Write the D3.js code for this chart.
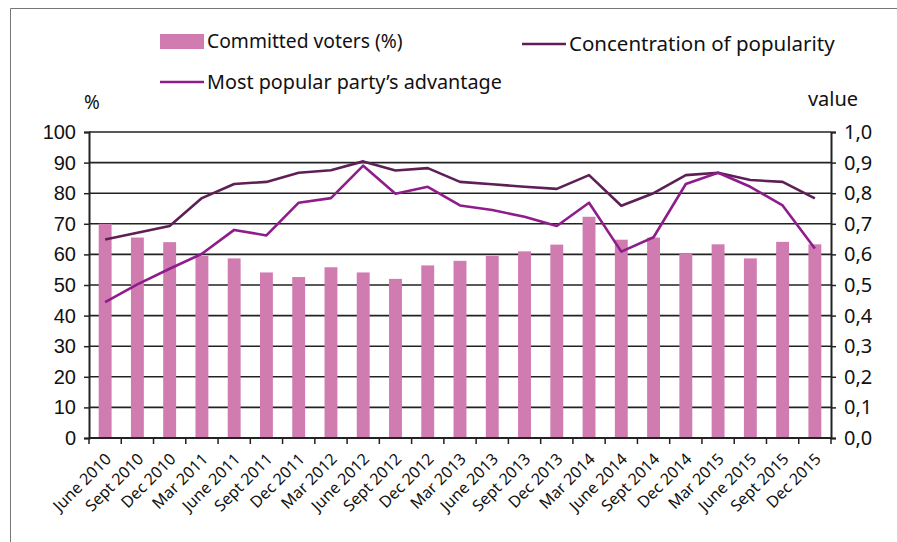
<!DOCTYPE html>
<html>
<head>
<meta charset="utf-8">
<script src="https://cdn.jsdelivr.net/npm/d3@7"></script>
<style>
  body { margin: 0; background: #fff; }
  svg { display: block; font-family: "Noto Sans", "Open Sans", sans-serif; }
</style>
</head>
<body>
<script>
// quarters on the x axis
var quarters = ["June 2010","Sept 2010","Dec 2010","Mar 2011","June 2011","Sept 2011","Dec 2011",
  "Mar 2012","June 2012","Sept 2012","Dec 2012","Mar 2013","June 2013","Sept 2013","Dec 2013",
  "Mar 2014","June 2014","Sept 2014","Dec 2014","Mar 2015","June 2015","Sept 2015","Dec 2015"];

// bars, left axis (%)
var committed = [70, 65.5, 64, 59.5, 58.7, 54.1, 52.6, 55.8, 54.1, 52.0, 56.4, 57.9, 59.5,
  61.0, 63.2, 72.3, 64.8, 65.5, 60.2, 63.3, 58.7, 64.1, 63.3];

// lines, right axis (value)
var concentration = [0.649, 0.671, 0.693, 0.784, 0.830, 0.837, 0.867, 0.875, 0.904, 0.874,
  0.882, 0.837, 0.829, 0.821, 0.814, 0.859, 0.759, 0.800, 0.859, 0.867, 0.843, 0.837, 0.783];
var advantage = [0.444, 0.502, 0.553, 0.602, 0.680, 0.662, 0.769, 0.784, 0.890, 0.798,
  0.821, 0.760, 0.745, 0.723, 0.693, 0.769, 0.609, 0.656, 0.830, 0.867, 0.821, 0.760, 0.619];

var leftTicks = [0,10,20,30,40,50,60,70,80,90,100];
var rightTicks = [0,0.1,0.2,0.3,0.4,0.5,0.6,0.7,0.8,0.9,1.0];

var W = 897, H = 542;
var margin = {top: 132, right: 66, bottom: 104, left: 89},
    width = W - margin.left - margin.right,
    height = H - margin.top - margin.bottom;

var barColor = "#d07cb1", concColor = "#5e1e56", advColor = "#8e1c8a";

var svg = d3.select("body").append("svg")
  .attr("width", W).attr("height", H);

// outer frame
svg.append("path")
  .attr("d", "M10.5," + H + "V8.5H" + W)
  .attr("fill", "none").attr("stroke", "#777").attr("stroke-width", 1);

var g = svg.append("g")
  .attr("transform", "translate(" + margin.left + "," + margin.top + ")");

var x = d3.scaleBand().domain(quarters).range([0, width]).paddingInner(0.6).paddingOuter(0.3);
var xc = function(d) { return x(d) + x.bandwidth() / 2; };
var yL = d3.scaleLinear().domain([0, 100]).range([height, 0]);
var yR = d3.scaleLinear().domain([0, 1]).range([height, 0]);

// gridlines
g.selectAll(".grid").data(leftTicks.slice(1))
  .enter().append("line")
  .attr("x1", 0).attr("x2", width)
  .attr("y1", yL).attr("y2", yL)
  .attr("stroke", "#222").attr("stroke-width", 1.6);

// bars
g.selectAll(".bar").data(committed)
  .enter().append("rect")
  .attr("x", function(d, i) { return x(quarters[i]); })
  .attr("width", x.bandwidth())
  .attr("y", function(d) { return yL(d); })
  .attr("height", function(d) { return height - yL(d); })
  .attr("fill", barColor);

// lines
var lineGen = function(s) {
  return d3.line().x(function(d, i) { return xc(quarters[i]); }).y(function(d) { return s(d); });
};
g.append("path").datum(concentration)
  .attr("d", lineGen(yR)).attr("fill", "none")
  .attr("stroke", concColor).attr("stroke-width", 2.6).attr("stroke-linejoin", "round");
g.append("path").datum(advantage)
  .attr("d", lineGen(yR)).attr("fill", "none")
  .attr("stroke", advColor).attr("stroke-width", 2.6).attr("stroke-linejoin", "round");

// axes
var leftAxis = g.append("g")
  .call(d3.axisLeft(yL).tickValues(leftTicks).tickSize(5).tickPadding(8));
var rightAxis = g.append("g").attr("transform", "translate(" + width + ",0)")
  .call(d3.axisRight(yR).tickValues(rightTicks).tickSize(5).tickPadding(8)
    .tickFormat(function(d) { return d3.format(".1f")(d).replace(".", ","); }));

// x axis: ticks at band boundaries
var xAxis = g.append("g").attr("transform", "translate(0," + height + ")");
xAxis.append("line").attr("x1", 0).attr("x2", width).attr("stroke", "#222").attr("stroke-width", 2);
var step = x.step();
var x0 = x(quarters[0]) - x.paddingOuter() * step;
xAxis.selectAll(".xt").data(d3.range(quarters.length + 1))
  .enter().append("line")
  .attr("x1", function(i) { return x0 + i * step; })
  .attr("x2", function(i) { return x0 + i * step; })
  .attr("y1", 0).attr("y2", 6)
  .attr("stroke", "#222").attr("stroke-width", 1.5);
xAxis.selectAll(".xl").data(quarters)
  .enter().append("text")
  .attr("transform", function(d) { return "translate(" + (xc(d) + 7) + ",22) rotate(-45)"; })
  .attr("text-anchor", "end")
  .attr("font-size", 16)
  .attr("fill", "#111")
  .text(function(d) { return d; });

[leftAxis, rightAxis].forEach(function(a) {
  a.select(".domain").attr("stroke", "#222").attr("stroke-width", 2);
  a.selectAll(".tick line").attr("stroke", "#222").attr("stroke-width", 1.5);
  a.selectAll(".tick text").attr("font-size", 20).attr("fill", "#111")
    .attr("font-family", "'Liberation Sans', Arial, sans-serif");
});
rightAxis.selectAll(".tick text").attr("font-family", "'Noto Sans', sans-serif");

// axis titles
svg.append("text").attr("x", 92).attr("y", 109).attr("text-anchor", "middle")
  .attr("font-size", 19).attr("fill", "#111").text("%");
svg.append("text").attr("x", 833).attr("y", 106).attr("text-anchor", "middle")
  .attr("font-size", 20).attr("fill", "#111").text("value");

// legend
var legend = svg.append("g").attr("font-size", 20).attr("fill", "#111");
legend.append("rect").attr("x", 160).attr("y", 34).attr("width", 44).attr("height", 15).attr("fill", barColor);
legend.append("text").attr("x", 207).attr("y", 48).attr("font-size", 19.3).text("Committed voters (%)");
legend.append("line").attr("x1", 522).attr("x2", 566).attr("y1", 44).attr("y2", 44)
  .attr("stroke", concColor).attr("stroke-width", 2.6);
legend.append("text").attr("x", 569).attr("y", 51).attr("font-size", 20.5).text("Concentration of popularity");
legend.append("line").attr("x1", 160).attr("x2", 204).attr("y1", 82).attr("y2", 82)
  .attr("stroke", advColor).attr("stroke-width", 2.6);
legend.append("text").attr("x", 207).attr("y", 89).attr("font-size", 19.8).text("Most popular party\u2019s advantage");
</script>
</body>
</html>
